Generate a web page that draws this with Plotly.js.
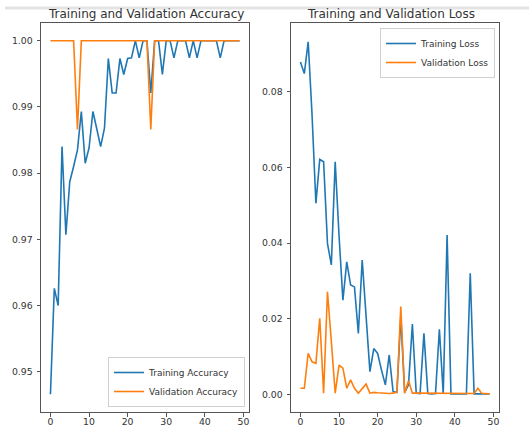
<!DOCTYPE html>
<html>
<head>
<meta charset="utf-8">
<script src="https://cdn.plot.ly/plotly-3.0.1.min.js"></script>
<style>html,body{margin:0;padding:0;background:#fff;}#chart{width:529px;height:430px;}</style>
</head>
<body>
<div id="chart"></div>
<script>
const epochs = [0,1,2,3,4,5,6,7,8,9,10,11,12,13,14,15,16,17,18,19,20,21,22,23,24,25,26,27,28,29,30,31,32,33,34,35,36,37,38,39,40,41,42,43,44,45,46,47,48,49];

const trainAcc = [0.9466,0.9626,0.9600,0.9840,0.9707,0.9787,0.9810,0.9835,0.9893,0.9815,
                  0.9838,0.9893,0.9867,0.9840,0.9868,0.9973,0.9921,0.9921,0.9973,0.9949,
                  0.9973,0.9974,1.0000,0.9974,1.0000,1.0000,0.9921,1.0000,1.0000,0.9949,
                  1.0000,1.0000,0.9974,1.0000,1.0000,1.0000,0.9974,1.0000,0.9974,1.0000,
                  1.0000,1.0000,1.0000,1.0000,0.9974,1.0000,1.0000,1.0000,1.0000,1.0000];

const valAcc = [1.0,1.0,1.0,1.0,1.0,1.0,1.0,0.9866,1.0,1.0,
                1.0,1.0,1.0,1.0,1.0,1.0,1.0,1.0,1.0,1.0,
                1.0,1.0,1.0,1.0,1.0,1.0,0.9866,1.0,1.0,1.0,
                1.0,1.0,1.0,1.0,1.0,1.0,1.0,1.0,1.0,1.0,
                1.0,1.0,1.0,1.0,1.0,1.0,1.0,1.0,1.0,1.0];

const trainLoss = [0.0879,0.0848,0.0932,0.0740,0.0505,0.0621,0.0615,0.0399,0.0342,0.0615,
                   0.0420,0.0249,0.0350,0.0289,0.0284,0.0161,0.0355,0.0210,0.0060,0.0121,
                   0.0108,0.0064,0.0025,0.0104,0.0007,0.0005,0.0205,0.0005,0.0025,0.0186,
                   0.0003,0.0002,0.0161,0.0002,0.0001,0.0002,0.0172,0.0001,0.0421,0.0001,
                   0.0001,0.0001,0.0001,0.0001,0.0320,0.0001,0.0001,0.0001,0.0001,0.0001];

const valLoss = [0.0016,0.0016,0.0108,0.0086,0.0082,0.0201,0.0003,0.0271,0.0140,0.0003,
                 0.0077,0.0069,0.0016,0.0038,0.0016,0.0003,0.0015,0.0027,0.0003,0.0005,
                 0.0004,0.0003,0.0003,0.0002,0.0003,0.0005,0.0232,0.0003,0.0036,0.0003,
                 0.0003,0.0003,0.0003,0.0002,0.0002,0.0002,0.0002,0.0002,0.0002,0.0002,
                 0.0002,0.0002,0.0002,0.0002,0.0002,0.0002,0.0016,0.0002,0.0002,0.0001];

const xTicks = [0,10,20,30,40,50];
const accTicks = [0.95,0.96,0.97,0.98,0.99,1.00];
const lossTicks = [0.00,0.02,0.04,0.06,0.08];

const titles = ['Training and Validation Accuracy','Training and Validation Loss'];
const names = ['Training Accuracy','Validation Accuracy','Training Loss','Validation Loss'];

const BLUE = '#1f77b4', ORANGE = '#ff7f0e';
const FONT = 'DejaVu Sans, Liberation Sans, sans-serif';
const W = 529, H = 430;

const traces = [
  {x: epochs, y: trainAcc, name: names[0], type: 'scatter', mode: 'lines', line: {color: BLUE, width: 1.6}, xaxis: 'x', yaxis: 'y', legend: 'legend'},
  {x: epochs, y: valAcc, name: names[1], type: 'scatter', mode: 'lines', line: {color: ORANGE, width: 1.6}, xaxis: 'x', yaxis: 'y', legend: 'legend'},
  {x: epochs, y: trainLoss, name: names[2], type: 'scatter', mode: 'lines', line: {color: BLUE, width: 1.6}, xaxis: 'x2', yaxis: 'y2', legend: 'legend2'},
  {x: epochs, y: valLoss, name: names[3], type: 'scatter', mode: 'lines', line: {color: ORANGE, width: 1.6}, xaxis: 'x2', yaxis: 'y2', legend: 'legend2'}
];

function axisBase(extra) {
  return Object.assign({
    showgrid: false, zeroline: false, showline: true, mirror: true,
    linecolor: '#555', linewidth: 1,
    ticks: 'outside', ticklen: 3.5, tickwidth: 1, tickcolor: '#555',
    tickfont: {family: FONT, size: 9.3, color: '#333'},
    ticklabelstandoff: 2
  }, extra);
}

const legendBase = {
  font: {family: FONT, size: 9, color: '#333'},
  bgcolor: 'rgba(255,255,255,0.8)', bordercolor: '#d0d0d0', borderwidth: 1,
  tracegroupgap: 0, itemwidth: 30
};

const layout = {
  width: W, height: H,
  margin: {l: 0, r: 0, t: 0, b: 0},
  paper_bgcolor: '#fff', plot_bgcolor: '#fff',
  showlegend: true,
  xaxis: axisBase({domain: [41/W, 249/W], range: [-2.45, 51.45], tickvals: xTicks, anchor: 'y', ticklabelstandoff: -3}),
  yaxis: axisBase({domain: [1 - 412/H, 1 - 23/H], range: [0.94393, 1.00267], tickvals: accTicks, tickformat: '.2f', anchor: 'x'}),
  xaxis2: axisBase({domain: [291/W, 499/W], range: [-2.45, 51.45], tickvals: xTicks, anchor: 'y2', ticklabelstandoff: -3}),
  yaxis2: axisBase({domain: [1 - 412/H, 1 - 23/H], range: [-0.00468, 0.09818], tickvals: lossTicks, tickformat: '.2f', anchor: 'x2'}),
  legend: Object.assign({}, legendBase, {x: 245/W, y: 1 - 407/H, xanchor: 'right', yanchor: 'bottom'}),
  legend2: Object.assign({}, legendBase, {x: 495/W, y: 1 - 28/H, xanchor: 'right', yanchor: 'top'}),
  annotations: [
    {text: titles[0], xref: 'paper', yref: 'paper', x: 146/W, y: 1 - 14/H, xanchor: 'center', yanchor: 'middle', showarrow: false, font: {family: FONT, size: 12, color: '#333'}},
    {text: titles[1], xref: 'paper', yref: 'paper', x: 391/W, y: 1 - 14/H, xanchor: 'center', yanchor: 'middle', showarrow: false, font: {family: FONT, size: 12, color: '#333'}}
  ],
  shapes: [
    {type: 'line', xref: 'paper', yref: 'paper', x0: 5/W, x1: 1, y0: 1 - 8/H, y1: 1 - 8/H, line: {color: '#e4e4e4', width: 3}}
  ]
};

Plotly.newPlot('chart', traces, layout, {staticPlot: true, displayModeBar: false});
</script>
</body>
</html>
